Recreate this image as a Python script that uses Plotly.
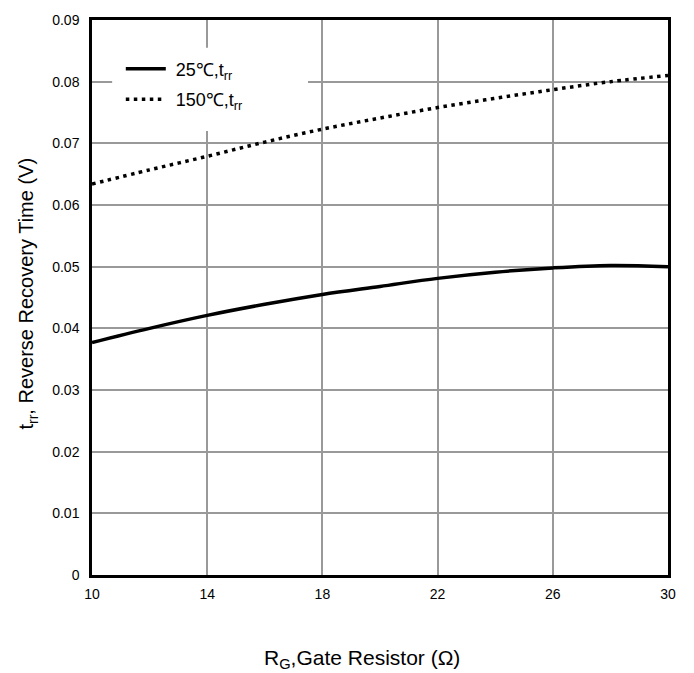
import plotly.graph_objects as go

rg = [10, 12, 14, 16, 18, 20, 22, 24, 26, 28, 30]
trr_25 = [0.0377, 0.0400, 0.0421, 0.0439, 0.0455, 0.0468, 0.0481, 0.0491, 0.0498, 0.0502, 0.0500]
trr_150 = [0.0634, 0.0657, 0.0679, 0.0702, 0.0723, 0.0741, 0.0758, 0.0773, 0.0787, 0.0800, 0.0810]

x_ticks = [10, 14, 18, 22, 26, 30]
y_ticks = [0, 0.01, 0.02, 0.03, 0.04, 0.05, 0.06, 0.07, 0.08, 0.09]
y_tick_text = ["0", "0.01", "0.02", "0.03", "0.04", "0.05", "0.06", "0.07", "0.08", "0.09"]

x_title = "R<sub>G</sub>,Gate Resistor (Ω)"
y_title = "t<sub>rr</sub>, Reverse Recovery Time (V)"

FONT = "Liberation Sans, Arial, sans-serif"

fig = go.Figure()
fig.add_trace(go.Scatter(x=rg, y=trr_25, mode="lines", line_shape="spline",
                         name="\u00a025℃,t<sub>rr</sub>", legendgroup="a",
                         line=dict(color="black", width=3.5)))
fig.add_trace(go.Scatter(x=rg, y=trr_150, mode="lines", line_shape="spline",
                         name="\u00a0150℃,t<sub>rr</sub>", legendgroup="b",
                         line=dict(color="black", width=3.5, dash="3.5px,4.5px")))

axis_common = dict(showline=True, linecolor="black", linewidth=2.5, mirror=True,
                   showgrid=True, gridcolor="#999999", gridwidth=1.5,
                   ticks="", zeroline=False,
                   tickfont=dict(family=FONT, size=14, color="black"))

# white backing box behind the legend (covers grid like the reference)
fig.add_shape(type="rect", xref="paper", yref="paper",
              x0=0.035, x1=0.375, y0=0.80, y1=0.95,
              fillcolor="white", line=dict(width=0), layer="above")

fig.add_annotation(text=x_title, xref="paper", yref="paper",
                   x=(362 - 92) / 576, y=-(660 - 575) / 560,
                   xanchor="center", yanchor="middle", showarrow=False,
                   font=dict(family=FONT, size=21, color="black"))
fig.add_annotation(text=y_title, xref="paper", yref="paper",
                   x=(28 - 92) / 576, y=(575 - 291) / 560, textangle=-90,
                   xanchor="center", yanchor="middle", showarrow=False,
                   font=dict(family=FONT, size=20, color="black"))

fig.update_layout(
    width=694, height=673,
    margin=dict(l=92, r=26, t=15, b=98),
    paper_bgcolor="white", plot_bgcolor="white",
    font=dict(family=FONT, color="black"),
    showlegend=True,
    legend=dict(x=0.05, y=0.945, xanchor="left", yanchor="top",
                bgcolor="rgba(0,0,0,0)", borderwidth=0,
                font=dict(family=FONT, size=18, color="black"),
                tracegroupgap=4, itemwidth=40),
    xaxis=dict(range=[10, 30], tickvals=x_ticks, ticklabelstandoff=4,
               **axis_common),
    yaxis=dict(range=[0, 0.09], tickvals=y_ticks, ticktext=y_tick_text,
               ticklabelstandoff=7, **axis_common),
)

fig.write_html("out.html",
               config={"displayModeBar": False},
               post_script="document.body.style.margin='0';document.body.style.overflow='hidden';")
